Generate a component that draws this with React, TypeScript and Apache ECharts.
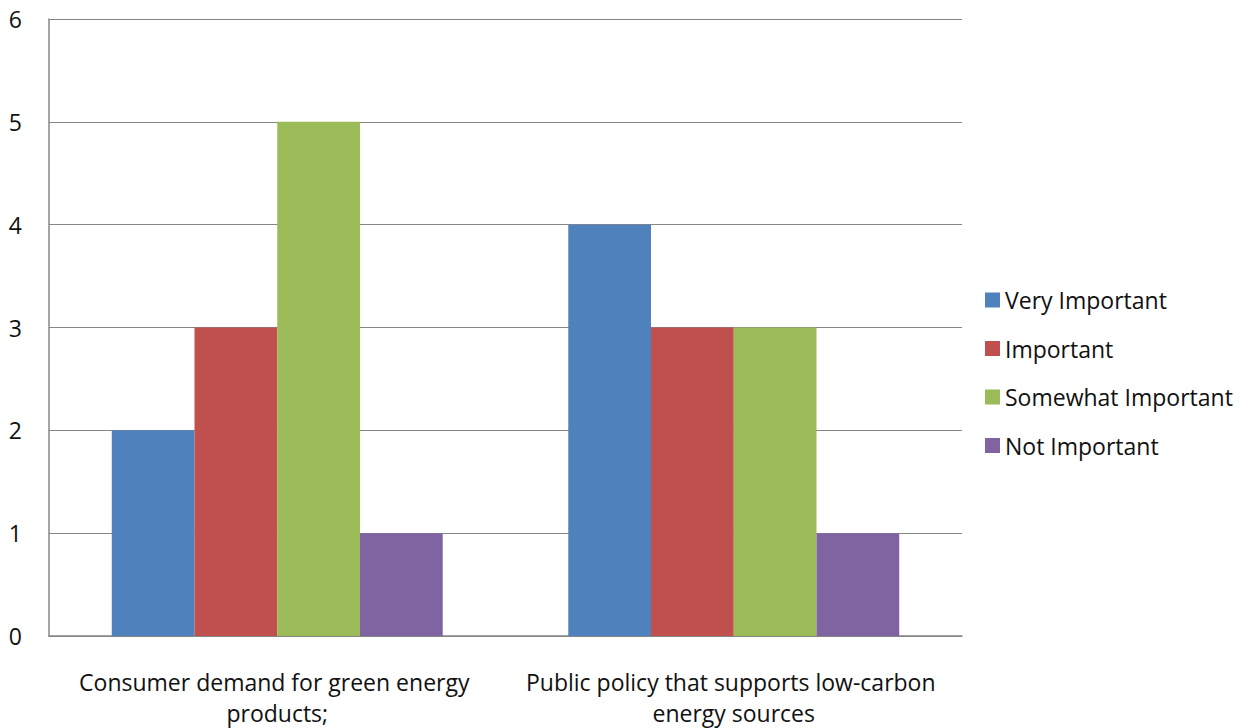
import React, { useEffect, useRef } from "react";
import * as echarts from "echarts";

const categories = [
  "Consumer demand for green energy products;",
  "Public policy that supports low-carbon energy sources",
];
const seriesNames = ["Very Important", "Important", "Somewhat Important", "Not Important"];
const veryImportant = [2, 4];
const important = [3, 3];
const somewhatImportant = [5, 3];
const notImportant = [1, 1];
const colors = ["#4F81BD", "#C0504D", "#9BBB59", "#8064A2"];

export default function App() {
  const ref = useRef<HTMLDivElement>(null);
  useEffect(() => {
    document.body.style.margin = "0";
    const chart = echarts.init(ref.current!, null, { renderer: "svg" });
    const font = "'Open Sans', Lato, sans-serif";
    const values = [veryImportant, important, somewhatImportant, notImportant];
    chart.setOption({
      animation: false,
      textStyle: { fontFamily: font },
      grid: { left: 49, right: 286, top: 19, bottom: 89, containLabel: false },
      legend: {
        orient: "vertical",
        left: 985,
        top: 288,
        padding: 0,
        itemWidth: 15,
        itemHeight: 15,
        itemGap: 24.5,
        icon: "rect",
        textStyle: { fontSize: 23, lineHeight: 24, color: "#111", fontFamily: font },
        data: seriesNames,
      },
      xAxis: {
        type: "category",
        data: categories,
        axisLine: { lineStyle: { color: "#868686", width: 1.5 } },
        axisTick: { show: false },
        axisLabel: {
          interval: 0,
          margin: 30,
          fontSize: 23,
          color: "#111",
          fontFamily: font,
          width: 450,
          overflow: "break",
          lineHeight: 31,
        },
      },
      yAxis: {
        type: "value",
        min: 0,
        max: 6,
        interval: 1,
        axisLine: { show: true, lineStyle: { color: "#868686", width: 1.5 } },
        axisTick: { show: false },
        axisLabel: { fontSize: 23, color: "#111", margin: 27, fontFamily: font },
        splitLine: { lineStyle: { color: "#868686", width: 1 } },
      },
      series: seriesNames.map((name, i) => ({
        name,
        type: "bar",
        data: values[i],
        itemStyle: { color: colors[i] },
        barGap: "0%",
        barCategoryGap: "27.5%",
      })),
    });
    return () => chart.dispose();
  }, []);
  return <div ref={ref} style={{ width: 1248, height: 728 }} />;
}
